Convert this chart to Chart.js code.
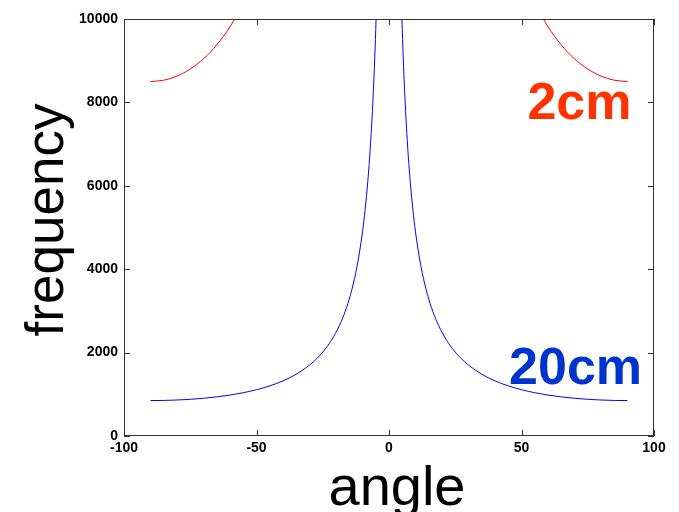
<!DOCTYPE html>
<html>
<head>
<meta charset="utf-8">
<script src="https://cdn.jsdelivr.net/npm/chart.js@4.4.1/dist/chart.umd.min.js"></script>
<style>
  html, body { margin: 0; padding: 0; background: #fff; }
  #wrap { width: 679px; height: 512px; }
</style>
</head>
<body>
<div id="wrap"><canvas id="freqChart" width="679" height="512"></canvas></div>
<script>
// Angles (degrees) and frequencies
const blueAngles = [-90, -85, -80, -75, -70, -65, -60, -55, -50, -45, -40, -35, -30, -27, -24, -21, -18, -16, -14, -12, -10, -9, -8, -7, -6, -5, -4, -3,
  0,
  3, 4, 5, 6, 7, 8, 9, 10, 12, 14, 16, 18, 21, 24, 27, 30, 35, 40, 45, 50, 55, 60, 65, 70, 75, 80, 85, 90];
const blueFreq = [850, 853, 863, 880, 905, 938, 981, 1038, 1110, 1202, 1322, 1482, 1700, 1872, 2090, 2372, 2751, 3084, 3514, 4088, 4895, 5434, 6108, 6975, 8132, 9752, 12185, 16240,
  null,
  16240, 12185, 9752, 8132, 6975, 6108, 5434, 4895, 4088, 3514, 3084, 2751, 2372, 2090, 1872, 1700, 1482, 1322, 1202, 1110, 1038, 981, 938, 905, 880, 863, 853, 850];

const redAngles = [-90, -85, -80, -75, -70, -65, -60, -55, -50, 0, 50, 55, 60, 65, 70, 75, 80, 85, 90];
const redFreq = [8500, 8532, 8631, 8800, 9045, 9379, 9815, 10377, 11096, null, 11096, 10377, 9815, 9379, 9045, 8800, 8631, 8532, 8500];

const xTicks = [-100, -50, 0, 50, 100];
const yTicks = [0, 2000, 4000, 6000, 8000, 10000];

const FONT = '"Liberation Sans", Arial, Helvetica, sans-serif';

function toPoints(xs, ys) {
    return xs.map((x, i) => ({ x: x, y: ys[i] }));
}

// frame, inward ticks, axis titles and the two labels
const decorations = {
    id: 'decorations',
    afterDraw(chart) {
        const ctx = chart.ctx;
        const a = chart.chartArea;
        const xs = chart.scales.x;
        const ys = chart.scales.y;
        ctx.save();
        ctx.strokeStyle = '#333';
        ctx.lineWidth = 1;
        ctx.strokeRect(a.left + 0.5, a.top + 0.5, a.right - a.left - 1, a.bottom - a.top - 1);
        ctx.beginPath();
        xTicks.forEach(v => {
            const px = Math.round(xs.getPixelForValue(v)) + 0.5;
            ctx.moveTo(px, a.bottom); ctx.lineTo(px, a.bottom - 6);
            ctx.moveTo(px, a.top); ctx.lineTo(px, a.top + 6);
        });
        yTicks.forEach(v => {
            const py = Math.round(ys.getPixelForValue(v)) + 0.5;
            ctx.moveTo(a.left, py); ctx.lineTo(a.left + 6, py);
            ctx.moveTo(a.right, py); ctx.lineTo(a.right - 6, py);
        });
        ctx.stroke();

        // axis titles
        ctx.fillStyle = '#000';
        ctx.textAlign = 'center';
        ctx.textBaseline = 'alphabetic';
        ctx.font = '56px ' + FONT;
        ctx.fillText('angle', 397, 505);
        ctx.save();
        ctx.translate(63, 220);
        ctx.rotate(-Math.PI / 2);
        ctx.font = '53px ' + FONT;
        ctx.fillText('frequency', 0, 0);
        ctx.restore();

        // curve labels
        ctx.textAlign = 'right';
        ctx.font = 'bold 52px ' + FONT;
        ctx.fillStyle = '#ff3300';
        ctx.fillText('2cm', xs.getPixelForValue(91.5), ys.getPixelForValue(7600));
        ctx.fillStyle = '#0033cc';
        ctx.fillText('20cm', xs.getPixelForValue(95.5), ys.getPixelForValue(1250));
        ctx.restore();
    }
};

const ctx = document.getElementById('freqChart').getContext('2d');
new Chart(ctx, {
    type: 'line',
    data: {
        datasets: [{
            label: '20cm',
            data: toPoints(blueAngles, blueFreq),
            borderColor: '#0000ff',
            borderWidth: 1,
            pointRadius: 0,
            cubicInterpolationMode: 'monotone',
            spanGaps: false
        }, {
            label: '2cm',
            data: toPoints(redAngles, redFreq),
            borderColor: '#ff0000',
            borderWidth: 1,
            pointRadius: 0,
            cubicInterpolationMode: 'monotone',
            spanGaps: false
        }]
    },
    options: {
        responsive: false,
        animation: false,
        layout: { padding: { left: 0, right: 25, top: 19, bottom: 0 } },
        plugins: {
            legend: { display: false },
            tooltip: { enabled: false }
        },
        scales: {
            x: {
                type: 'linear',
                min: -100,
                max: 100,
                afterBuildTicks: s => { s.ticks = xTicks.map(v => ({ value: v })); },
                afterFit: s => { s.height = 76; },
                grid: { display: false, drawTicks: false },
                border: { display: false },
                ticks: {
                    color: '#000',
                    padding: 4,
                    maxRotation: 0,
                    callback: v => String(v),
                    font: { family: FONT, size: 14, weight: 'bold' }
                }
            },
            y: {
                type: 'linear',
                min: 0,
                max: 10000,
                afterBuildTicks: s => { s.ticks = yTicks.map(v => ({ value: v })); },
                afterFit: s => { s.width = 124; },
                grid: { display: false, drawTicks: false },
                border: { display: false },
                ticks: {
                    color: '#000',
                    padding: 6,
                    callback: v => String(v),
                    font: { family: FONT, size: 14, weight: 'bold' }
                }
            }
        }
    },
    plugins: [decorations]
});
</script>
</body>
</html>
